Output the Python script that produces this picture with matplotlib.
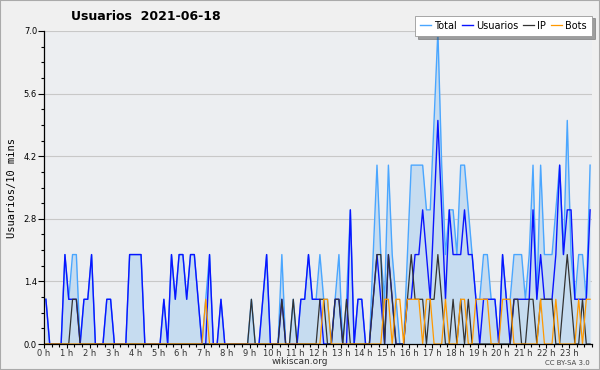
import numpy as np
import matplotlib.pyplot as plt
from matplotlib.ticker import MultipleLocator

# values per 10 minute slot, 2021-06-18 (144 slots)
total = [1, 0, 0, 0, 0, 2, 1, 2, 2, 0, 1, 1, 2, 0, 0, 0, 1, 1, 0, 0,
         0, 0, 2, 2, 2, 2, 0, 0, 0, 0, 0, 1, 0, 2, 1, 2, 2, 1, 2, 2,
         1, 0, 1, 2, 0, 0, 1, 0, 0, 0, 0, 0, 0, 0, 1, 0, 0, 1, 2, 0,
         0, 0, 2, 0, 0, 1, 0, 1, 1, 2, 1, 1, 2, 1, 1, 0, 1, 2, 0, 1,
         3, 0, 1, 1, 0, 0, 2, 4, 2, 1, 4, 2, 1, 0, 0, 2, 4, 4, 4, 4,
         3, 3, 5, 7, 4, 2, 3, 3, 2, 4, 4, 3, 2, 1, 1, 2, 2, 1, 1, 0,
         2, 1, 1, 2, 2, 2, 1, 2, 4, 1, 4, 2, 2, 2, 3, 4, 2, 5, 2, 1,
         2, 2, 1, 4]
usuarios = [1, 0, 0, 0, 0, 2, 1, 1, 1, 0, 1, 1, 2, 0, 0, 0, 1, 1, 0, 0,
            0, 0, 2, 2, 2, 2, 0, 0, 0, 0, 0, 1, 0, 2, 1, 2, 2, 1, 2, 2,
            1, 0, 0, 2, 0, 0, 1, 0, 0, 0, 0, 0, 0, 0, 0, 0, 0, 1, 2, 0,
            0, 0, 1, 0, 0, 0, 0, 1, 1, 2, 1, 1, 1, 0, 0, 0, 1, 1, 0, 0,
            3, 0, 1, 1, 0, 0, 1, 2, 1, 0, 2, 1, 0, 0, 0, 1, 1, 2, 2, 3,
            2, 1, 3, 5, 3, 1, 3, 2, 2, 2, 3, 2, 2, 1, 0, 1, 1, 1, 1, 0,
            2, 1, 0, 1, 1, 1, 1, 1, 3, 1, 2, 1, 1, 1, 2, 4, 2, 3, 3, 1,
            1, 1, 1, 3]
ip = [0, 0, 0, 0, 0, 0, 0, 1, 1, 0, 0, 0, 0, 0, 0, 0, 0, 0, 0, 0,
      0, 0, 0, 0, 0, 0, 0, 0, 0, 0, 0, 0, 0, 0, 0, 0, 0, 0, 0, 0,
      0, 0, 0, 0, 0, 0, 0, 0, 0, 0, 0, 0, 0, 0, 1, 0, 0, 0, 0, 0,
      0, 0, 1, 0, 0, 1, 0, 0, 0, 0, 0, 0, 1, 1, 0, 0, 1, 1, 0, 1,
      0, 0, 0, 0, 0, 0, 1, 2, 2, 0, 2, 1, 0, 0, 0, 1, 2, 1, 1, 1,
      0, 1, 1, 2, 1, 0, 0, 1, 0, 1, 0, 1, 0, 0, 0, 0, 0, 0, 0, 0,
      0, 0, 0, 1, 1, 0, 0, 1, 1, 0, 1, 1, 1, 1, 0, 0, 1, 2, 1, 0,
      0, 1, 0, 0]
bots = [0, 0, 0, 0, 0, 0, 0, 0, 0, 0, 0, 0, 0, 0, 0, 0, 0, 0, 0, 0,
        0, 0, 0, 0, 0, 0, 0, 0, 0, 0, 0, 0, 0, 0, 0, 0, 0, 0, 0, 0,
        0, 0, 1, 0, 0, 0, 0, 0, 0, 0, 0, 0, 0, 0, 0, 0, 0, 0, 0, 0,
        0, 0, 0, 0, 0, 0, 0, 0, 0, 0, 0, 0, 0, 1, 1, 0, 0, 0, 0, 0,
        0, 0, 0, 0, 0, 0, 0, 0, 0, 1, 1, 0, 1, 1, 0, 1, 1, 1, 1, 0,
        1, 1, 0, 0, 0, 1, 0, 0, 0, 1, 1, 0, 0, 1, 1, 1, 1, 0, 0, 0,
        1, 1, 1, 0, 0, 0, 0, 0, 0, 0, 1, 0, 0, 0, 1, 0, 0, 0, 0, 0,
        1, 0, 1, 1]
hour_labels = [f"{h} h" for h in range(24)]
y_ticks = [0.0, 1.4, 2.8, 4.2, 5.6, 7.0]

# slots sit in the middle of each 10 minute interval
x = (np.arange(len(total)) + 0.5) / 6.0

fig = plt.figure(figsize=(6, 3.7), dpi=100, facecolor='#f0f0f0')
ax = fig.add_axes([44 / 600, 1 - 344 / 370, 548 / 600, 313 / 370])
ax.set_facecolor('#eceef1')

ax.fill_between(x, total, 0, color='#c6dcf0', lw=0)
ax.plot(x, total, color='#4aa6ff', lw=1.0, label='Total')
ax.plot(x, usuarios, color='#0a14ff', lw=1.0, label='Usuarios')
ax.plot(x, ip, color='#333333', lw=0.9, label='IP')
ax.plot(x, bots, color='#ff9900', lw=0.9, label='Bots')

ax.set_xlim(0, 24)
ax.set_ylim(0, 7.0)
ax.set_yticks(y_ticks)
ax.set_yticklabels([f"{v:.1f}" for v in y_ticks], fontsize=6)
ax.yaxis.set_minor_locator(MultipleLocator(0.35))
ax.set_xticks(range(24))
ax.set_xticklabels(hour_labels, fontsize=6, color='#333333')
ax.xaxis.set_minor_locator(MultipleLocator(1 / 3))
ax.tick_params(axis='x', which='major', length=3, width=0.8, pad=0.5)
ax.tick_params(axis='x', which='minor', length=2.5, width=0.8)
ax.tick_params(axis='y', which='major', length=4, width=0.8, pad=1)
ax.tick_params(axis='y', which='minor', length=2, width=0.8)
ax.grid(axis='y', color='#c8c8c8', lw=0.8)
ax.set_axisbelow(True)
for s in ['top', 'right']:
    ax.spines[s].set_visible(False)
for s in ['left', 'bottom']:
    ax.spines[s].set_linewidth(0.9)

ax.set_ylabel('Usuarios/10 mins', family='DejaVu Sans Mono', fontsize=7.5, labelpad=5)

fig.text(0.243, 0.955, 'Usuarios  2021-06-18', fontsize=9, fontweight='bold',
         family=['Liberation Sans Narrow', 'DejaVu Sans'], ha='center', va='center')
fig.text(0.5, 0.022, 'wikiscan.org', fontsize=6.5, ha='center', va='center', color='#333333')
fig.text(0.983, 0.020, 'CC BY-SA 3.0', fontsize=5, ha='right', va='center', color='#444444')

leg = fig.legend(loc='upper right', bbox_to_anchor=(0.987, 0.958), ncol=4, fontsize=7,
                 frameon=True, fancybox=False, shadow=True, handlelength=1.1,
                 handletextpad=0.35, columnspacing=0.5, borderpad=0.55, borderaxespad=0)
leg.get_frame().set_edgecolor('#999999')
leg.get_frame().set_linewidth(0.6)

# outer border of the image
fig.patches.append(plt.Rectangle((0, 0), 1, 1, transform=fig.transFigure, fill=False,
                                 edgecolor='#aaaaaa', lw=1.5))

plt.savefig('out.png', dpi=100, facecolor=fig.get_facecolor())
